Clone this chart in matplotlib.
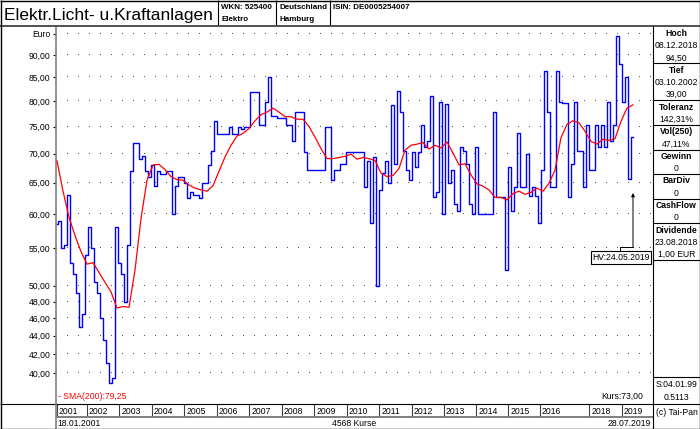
import numpy as np
import matplotlib
matplotlib.use("Agg")
import matplotlib.pyplot as plt
import matplotlib.transforms as mtransforms
from matplotlib.lines import Line2D
from matplotlib.ticker import NullLocator

plt.rcParams['font.family'] = ['Liberation Sans', 'DejaVu Sans']

# Quotes in Euro at even steps along the quote axis
price = [
    58.5, 59, 55, 55.5, 63, 53, 51.5, 49, 45, 46.5,
    54, 58, 55, 50.5, 49, 46, 43.5, 41, 39.0, 39.5,
    58, 53, 51.5, 48, 55.5, 67, 72, 72, 69, 69.5,
    67, 66, 68, 64.5, 67, 66.5, 66.5, 67, 67, 60,
    64.5, 66, 66, 65, 62.5, 63.5, 63, 63, 62.5, 65,
    65, 68, 70.5, 76, 73.5, 73.5, 73.5, 73.5, 75, 73.5,
    73.5, 75, 74.5, 75, 75, 82, 82, 82, 75.3, 75.3,
    79.9, 85, 77.1, 77.1, 76.6, 76.6, 76.6, 75.3, 75.3, 72.3,
    77.9, 77.9, 77.9, 70.2, 67.2, 67.2, 67.2, 67.2, 67.2, 67.2,
    75, 75, 65.4, 67.2, 67.2, 68.2, 68.2, 70.2, 70.2, 70.2,
    70.2, 70.2, 70.2, 64.3, 68.7, 58.6, 69.3, 50.0, 63.8, 66.6,
    68.7, 64.9, 79.3, 68.2, 82.1, 77.9, 70.5, 67.1, 65.4, 70.2,
    67.6, 70.2, 75.3, 71.1, 72.3, 81.0, 62.6, 63.4, 79.9, 60.0,
    79.4, 64.9, 67.1, 61.5, 60.4, 71.1, 70.5, 68.2, 61.5, 60.0,
    71.1, 60, 60, 60, 60, 60, 77.9, 62.6, 62.6, 62.6,
    52.0, 67.6, 60.4, 64.3, 73.7, 64.3, 64.3, 69.9, 62.8, 64.3,
    62.8, 58.6, 67.1, 86.5, 77.9, 64.3, 64.3, 86.5, 79.9, 79.6,
    79.6, 62.6, 68.2, 79.9, 70.5, 70.5, 64.3, 75.3, 67.1, 67.1,
    75.3, 71.1, 75.3, 71.1, 79.9, 72.3, 75.3, 94.5, 88.0, 79.9,
    85.1, 65.6, 73.0,
]

# SMA(200), every second sample of the quotes above
sma200 = [
    68.7, 63.6, 59.5, 56.8, 54.5, 52.8, 53.0, 51.7, 50.4, 49.2,
    47.2, 47.4, 47.3, 52.0, 59.3, 65.4, 68.0, 68.1, 67.2, 66.0,
    65.5, 65.4, 64.6, 64.1, 63.8, 63.6, 64.5, 66.9, 69.4, 71.5,
    73.2, 73.7, 74.6, 76.1,
    77.3, 77.8, 78.6, 77.8, 76.9, 76.9, 76.4, 76.4, 75.0, 73.0,
    70.9, 69.1, 69.1, 69.3, 69.5, 69.9, 69.0, 69.3, 69.1, 68.8,
    66.6, 66.0, 66.2, 67.4, 70.6, 71.5, 71.7, 72.0, 70.8, 71.5,
    71.0, 72.1,
    70.1, 68.0, 68.2, 66.3, 64.8, 64.4, 63.8, 62.6, 62.6, 62.2,
    63.2, 63.6, 63.1, 63.4, 64.1, 63.6, 64.9, 67.1, 72.9, 75.4,
    76.1, 75.7, 74.1, 72.2, 71.7, 72.6, 72.4, 72.7, 76.0, 78.6,
    79.25,
]

years = ['2001', '2002', '2003', '2004', '2005', '2006', '2007', '2008', '2009',
         '2010', '2011', '2012', '2013', '2014', '2015', '2016', '2018', '2019']
# sample index where each year starts
year_start = [0, 9.9, 20.7, 31.6, 42.4, 53.2, 64.1, 74.9, 85.7,
              96.6, 107.4, 118.2, 129, 139.7, 150.4, 161, 177.4, 188.2]

y_ticks = [40, 42, 44, 46, 48, 50, 55, 60, 65, 70, 75, 80, 85, 90, 95]
y_labels = ['40,00', '42,00', '44,00', '46,00', '48,00', '50,00', '55,00', '60,00',
            '65,00', '70,00', '75,00', '80,00', '85,00', '90,00', 'Euro']

info_rows = [
    ('Hoch', True), ('08.12.2018', False), ('94,50', False),
    ('Tief', True), ('03.10.2002', False), ('39,00', False),
    ('Toleranz', True), ('142,31%', False),
    ('Vol(250)', True), ('47,11%', False),
    ('Gewinn', True), ('0', False),
    ('BarDiv', True), ('0', False),
    ('CashFlow', True), ('0', False),
    ('Dividende', True), ('23.08.2018', False), ('1,00 EUR', False),
]

hv_idx, hv_value = 192, 63.3
last_price, sma_last = 73.00, 79.25
n_quotes = 4568
first_date, last_date = '18.01.2001', '28.07.2019'

W, H = 700, 429
fig = plt.figure(figsize=(W / 100, H / 100), dpi=100)
fig.patch.set_facecolor('white')


def fx(x):
    return x / W


def fy(y):
    return 1 - y / H


def line(x0, y0, x1, y1, color='black', lw=0.8):
    fig.add_artist(Line2D([fx(x0), fx(x1)], [fy(y0), fy(y1)], transform=fig.transFigure,
                          color=color, lw=lw, solid_capstyle='butt'))


def label(x, y, s, size=6.2, ha='left', **kw):
    # y is the vertical centre of the capitals, in pixels from the top
    fig.text(fx(x), fy(y + 0.36 * size / 0.72), s, ha=ha, va='baseline', fontsize=size, **kw)


# main chart
ax = fig.add_axes([fx(56), fy(404), (653 - 56) / W, (404 - 26) / H])
ax.set_yscale('log')
ax.set_ylim(36.96, 96.91)
ax.set_xlim(-1 / 3, 198.67)

trans = mtransforms.blended_transform_factory(ax.transAxes, ax.transData)
dot_x = (np.arange(67, 652, 11) - 56) / 597
for v in y_ticks:
    ax.plot(dot_x, np.full(len(dot_x), v), ',', color='#505050', transform=trans, zorder=1)

ax.plot(np.arange(len(price)), price, drawstyle='steps-mid', color='#0000ff', lw=1.0, zorder=3)
ax.plot(np.arange(0, len(price), 2), sma200, color='#ff0000', lw=0.9, zorder=4)

ax.set_yticks(y_ticks)
ax.set_yticklabels(y_labels)
ax.yaxis.set_minor_locator(NullLocator())
ax.set_xticks([])
ax.tick_params(axis='y', length=2.5, width=0.8, pad=1.5, labelsize=6.2, color='black')
for side in ['top', 'right', 'bottom']:
    ax.spines[side].set_visible(False)
ax.spines['left'].set_color('#808080')
ax.spines['left'].set_linewidth(1.2)

label(57.5, 396, '- SMA(200):' + f'{sma_last:.2f}'.replace('.', ','), color='#ff0000')
label(643, 396, 'Kurs:' + f'{last_price:.2f}'.replace('.', ','), ha='right')

# HV marker
tx, ty = ax.transData.transform((hv_idx, hv_value))
ax.annotate('', xy=(hv_idx, hv_value), xytext=(tx, ty - 54), textcoords='figure pixels',
            arrowprops=dict(arrowstyle='-|>', color='black', lw=0.7, shrinkA=0, shrinkB=0,
                            mutation_scale=5))
fig.add_artist(Line2D([tx - 13, tx - 13, tx], [ty - 59, ty - 54, ty - 54],
                      transform=mtransforms.IdentityTransform(), color='black', lw=0.7))
fig.text((tx - 12) / W, (ty - 64.5) / H, 'HV:24.05.2019', ha='center', va='center', fontsize=6.2,
         bbox=dict(boxstyle='square,pad=0.2', fc='white', ec='black', lw=0.8), zorder=5)

# year row
axy = fig.add_axes([fx(56), fy(417), (653 - 56) / W, 13 / H])
axy.set_xlim(ax.get_xlim())
axy.set_ylim(0, 1)
axy.axis('off')
for yr, idx in zip(years, year_start):
    axy.axvline(idx, color='#404040', lw=0.8)
    axy.annotate(yr, (idx, 0.45), xytext=(2, 0), textcoords='offset pixels', va='center', fontsize=6.2)

# header
label(4, 13.5, 'Elektr.Licht- u.Kraftanlagen', size=12.5)
label(221, 6.5, 'WKN: 525400', size=5.8, weight='bold')
label(221, 18.5, 'Elektro', size=5.8, weight='bold')
label(279, 6.5, 'Deutschland', size=5.8, weight='bold')
label(279, 18.5, 'Hamburg', size=5.8, weight='bold')
label(333, 6.5, 'ISIN: DE0005254007', size=5.8, weight='bold')
for x in [218, 276, 330]:
    line(x, 0, x, 25)
line(0, 25.5, 700, 25.5, color='#505050', lw=1.4)

# right info panel
for k, (s, head) in enumerate(info_rows):
    yc = 32.7 + 12.3 * k
    if head and k > 0:
        line(653, yc - 6.15, 700, yc - 6.15)
    label(676.5, yc, s, ha='center', weight='bold' if head else 'normal')
line(653, 32.7 + 12.3 * (len(info_rows) - 1) + 6.15, 700, 32.7 + 12.3 * (len(info_rows) - 1) + 6.15)
line(653, 377, 700, 377)
label(676.5, 383.5, 'S:04.01.99', ha='center')
label(676.5, 397.3, '0.5113', ha='center')
label(676.5, 411.7, '(c) Tai-Pan', ha='center')

# bottom rows
label(57.5, 422.5, first_date)
label(354.5, 422.5, f'{n_quotes} Kurse', ha='center')
label(651, 422.5, last_date, ha='right')

# frame lines
line(0, 404, 700, 404)
line(56, 417, 653, 417, color='#808080', lw=1.4)
line(56, 404, 56, 429, color='#808080', lw=1.2)
line(653, 26, 653, 429)
line(0.5, 0, 0.5, 429, lw=1.0)
line(699.5, 0, 699.5, 429, lw=1.0)
line(0, 0.5, 700, 0.5, lw=1.0)
line(0, 428.5, 700, 428.5, lw=1.0)

fig.savefig('out.png', dpi=100)
